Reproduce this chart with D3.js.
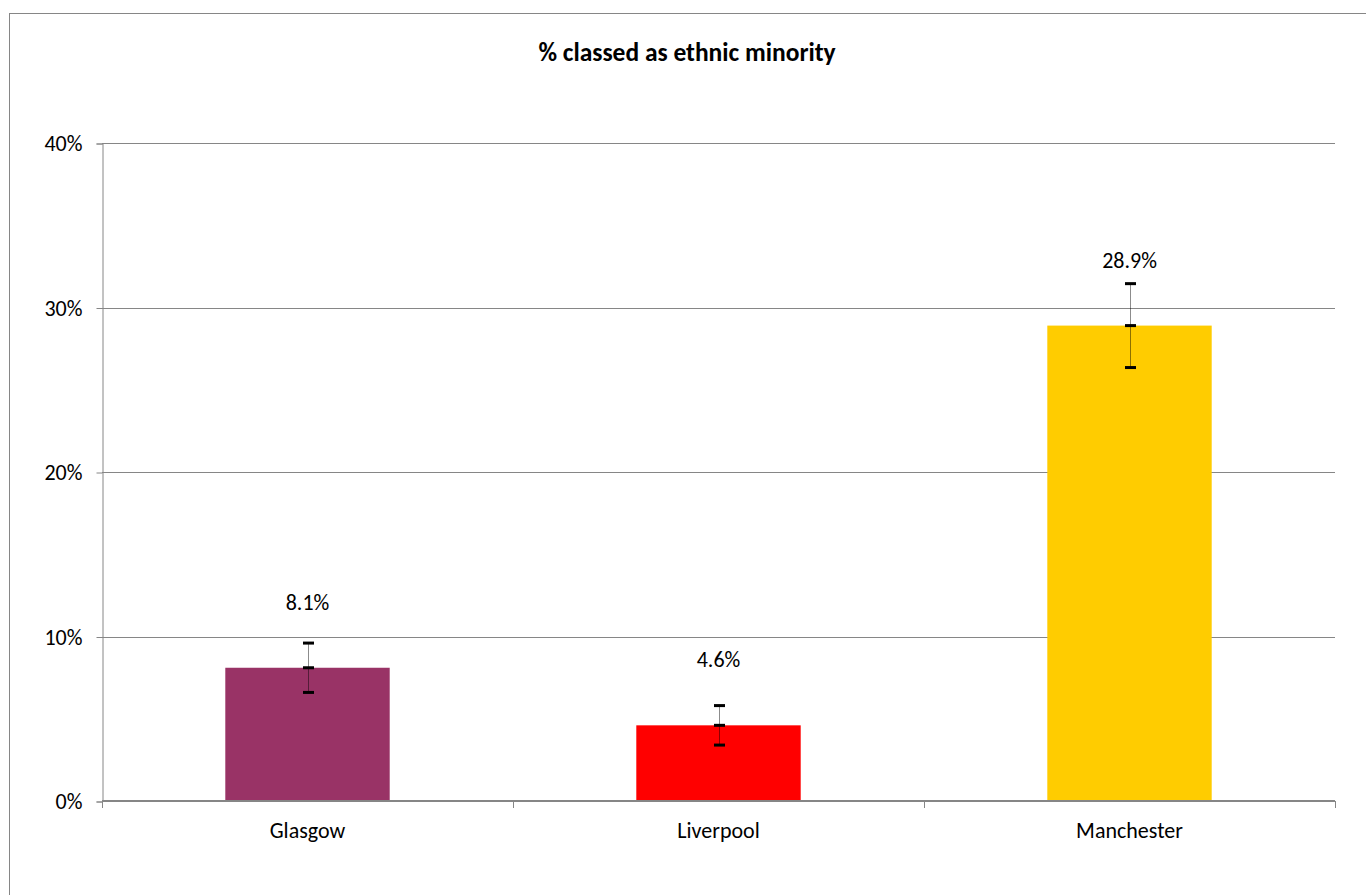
<!DOCTYPE html>
<html><head><meta charset="utf-8">
<script src="https://cdn.jsdelivr.net/npm/d3@7"></script>
<style>
html,body{margin:0;padding:0;background:#fff;}
svg{display:block;}
text{font-family:Carlito, Lato, "Open Sans", sans-serif;fill:#000;}
</style></head>
<body>
<svg id="chart" width="1366" height="895"></svg>
<script>
const categories = ["Glasgow", "Liverpool", "Manchester"];
const values = [8.1, 4.6, 28.9];
const errors = [1.5, 1.2, 2.55];
const valueLabels = ["8.1%", "4.6%", "28.9%"];
const colors = ["#993366", "#FF0000", "#FFCC00"];
const yTicks = [0, 10, 20, 30, 40];
const title = "% classed as ethnic minority";

const svg = d3.select("#chart");
const margin = {left: 102, right: 31, top: 143, bottom: 94};
const W = 1366, H = 895;
const FS = 22;

svg.append("rect").attr("x", 9.5).attr("y", 13.5).attr("width", 1400).attr("height", 1000)
  .attr("fill", "#fff").attr("stroke", "#868686").attr("stroke-width", 1);

const x = d3.scaleBand().domain(categories).range([margin.left, W - margin.right]).paddingInner(0.6).paddingOuter(0.3);
const y = d3.scaleLinear().domain([0, 40]).range([H - margin.bottom, margin.top]);

// gridlines
svg.append("g").selectAll("line").data(yTicks.filter(d => d > 0)).join("line")
  .attr("x1", margin.left).attr("x2", W - margin.right)
  .attr("y1", d => Math.round(y(d)) + 0.5).attr("y2", d => Math.round(y(d)) + 0.5)
  .attr("stroke", "#868686").attr("stroke-width", 1);

// y axis
const yAxis = d3.axisLeft(y).tickValues(yTicks).tickFormat(d => d + "%").tickSize(6).tickPadding(14);
const gy = svg.append("g").attr("transform", `translate(${margin.left + 0.5},0.5)`).call(yAxis);
gy.select(".domain").attr("stroke", "#868686");
gy.selectAll(".tick line").attr("stroke", "#868686");
gy.selectAll(".tick text").attr("font-size", FS).attr("font-family", "Carlito, Lato, sans-serif").attr("fill", "#000");

// bars
svg.append("g").selectAll("rect").data(categories).join("rect")
  .attr("x", d => x(d)).attr("width", x.bandwidth())
  .attr("y", (d, i) => y(values[i])).attr("height", (d, i) => y(0) - y(values[i]))
  .attr("fill", (d, i) => colors[i]);

// x axis
const xEdges = [0, 1, 2, 3].map(i => margin.left + i * (W - margin.left - margin.right) / 3);
const gx = svg.append("g");
gx.append("line").attr("x1", margin.left).attr("x2", W - margin.right)
  .attr("y1", y(0)).attr("y2", y(0)).attr("stroke", "#868686").attr("stroke-width", 2);
gx.selectAll("line.tk").data(xEdges).join("line").attr("class", "tk")
  .attr("x1", d => Math.round(d) + 0.5).attr("x2", d => Math.round(d) + 0.5)
  .attr("y1", y(0)).attr("y2", y(0) + 7).attr("stroke", "#868686").attr("stroke-width", 1);
gx.selectAll("text").data(categories).join("text")
  .attr("x", d => x(d) + x.bandwidth() / 2).attr("y", y(0) + 37)
  .attr("text-anchor", "middle").attr("font-size", FS).text(d => d);

// error bars
const eb = svg.append("g").selectAll("g").data(categories).join("g")
  .attr("transform", d => `translate(${Math.round(x(d) + x.bandwidth() / 2) + 0.5},0)`);
eb.append("line").attr("y1", (d, i) => y(values[i] + errors[i])).attr("y2", (d, i) => y(values[i] - errors[i]))
  .attr("stroke", "#000").attr("stroke-opacity", 0.45).attr("stroke-width", 1);
eb.selectAll("rect.cap").data((d, i) => [values[i] + errors[i], values[i], values[i] - errors[i]]).join("rect")
  .attr("class", "cap").attr("x", -5.5).attr("width", 11).attr("y", v => y(v) - 1.5).attr("height", 3).attr("fill", "#000");

// value labels
svg.append("g").selectAll("text").data(categories).join("text")
  .attr("x", d => x(d) + x.bandwidth() / 2).attr("y", (d, i) => y(values[i]) - 58)
  .attr("text-anchor", "middle").attr("font-size", FS).text((d, i) => valueLabels[i]);

// title
svg.append("text").attr("x", 687).attr("y", 61).attr("text-anchor", "middle")
  .attr("font-size", 25.5).attr("font-weight", "bold").text(title);
</script>
</body></html>
